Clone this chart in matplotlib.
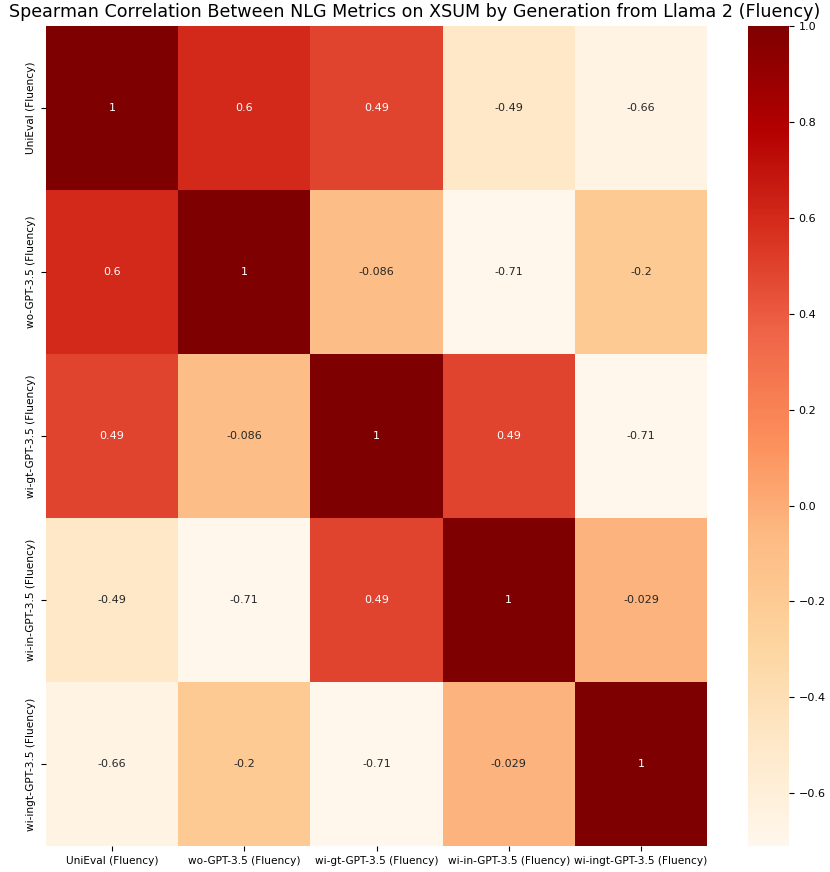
import numpy as np
import matplotlib
matplotlib.use("Agg")
import matplotlib.pyplot as plt
import seaborn as sns

labels = ["UniEval (Fluency)", "wo-GPT-3.5 (Fluency)", "wi-gt-GPT-3.5 (Fluency)",
          "wi-in-GPT-3.5 (Fluency)", "wi-ingt-GPT-3.5 (Fluency)"]
corr = np.array([
    [1, 0.6, 0.49, -0.49, -0.66],
    [0.6, 1, -0.086, -0.71, -0.2],
    [0.49, -0.086, 1, 0.49, -0.71],
    [-0.49, -0.71, 0.49, 1, -0.029],
    [-0.66, -0.2, -0.71, -0.029, 1],
])

W, H = 830, 872
fig = plt.figure(figsize=(W / 100, H / 100), dpi=100)
ax = fig.add_axes([46 / W, 1 - 846 / H, (707 - 46) / W, (846 - 26) / H])
cax = fig.add_axes([748 / W, 1 - 846 / H, (789 - 748) / W, (846 - 26) / H])

sns.heatmap(corr, annot=True, cmap="OrRd", ax=ax, cbar_ax=cax,
            xticklabels=labels, yticklabels=labels, annot_kws={"fontsize": 8})
ax.tick_params(labelsize=7.6)
plt.setp(ax.get_xticklabels(), rotation=0)
plt.setp(ax.get_yticklabels(), rotation=90, va="center")
cax.tick_params(labelsize=8)
fig.text(0.5, 1 - 3 / H, "Spearman Correlation Between NLG Metrics on XSUM by Generation from Llama 2 (Fluency)",
         fontsize=12.6, ha="center", va="top")

fig.savefig("out.png", dpi=100)
